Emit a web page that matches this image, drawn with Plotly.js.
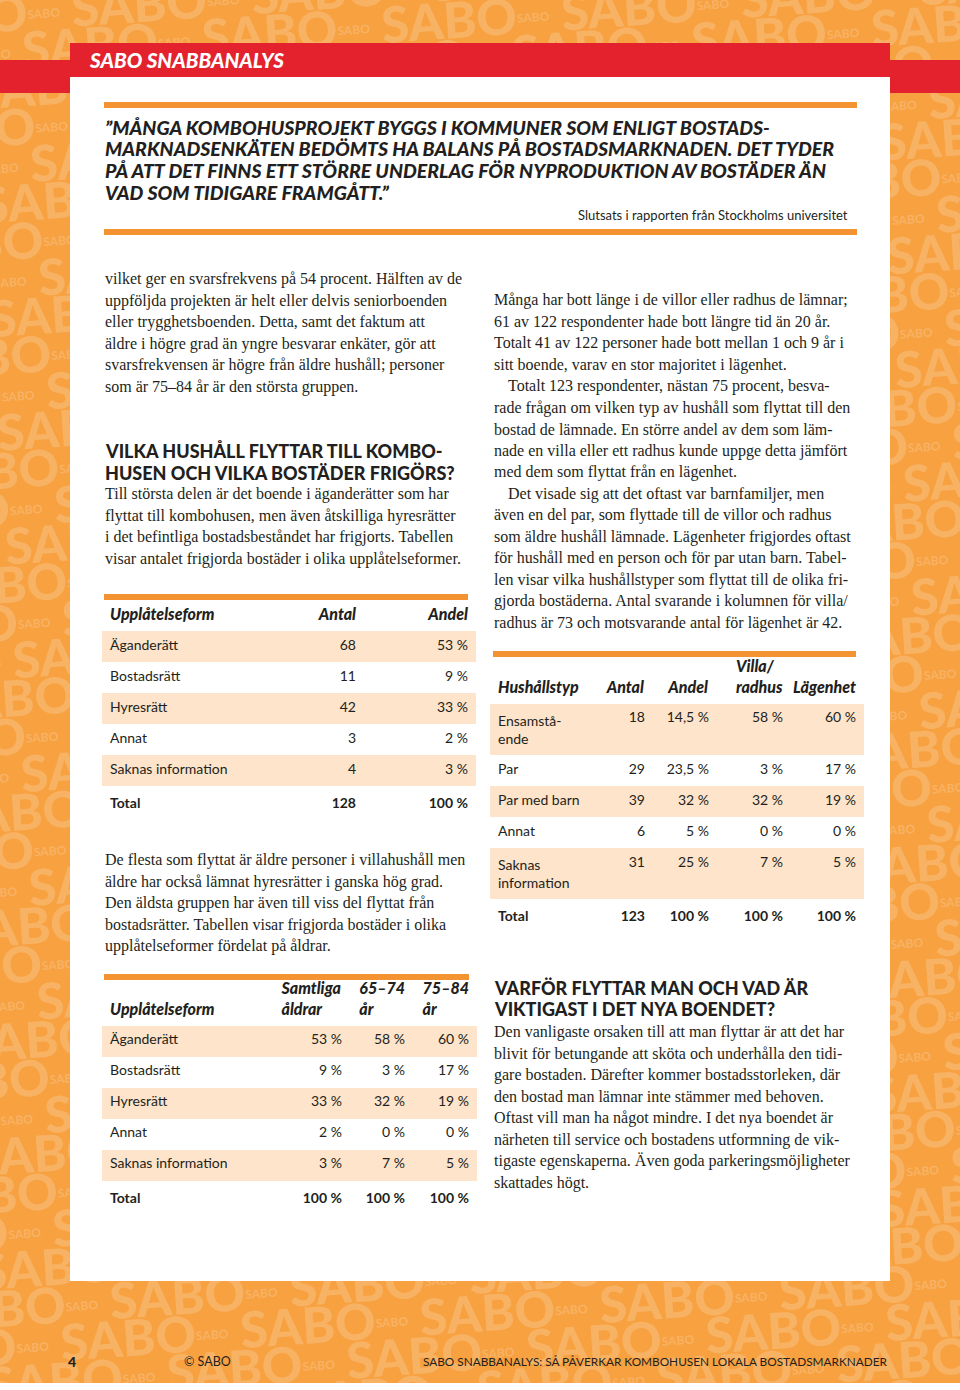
<!DOCTYPE html>
<html>
<head>
<meta charset="utf-8">
<script src="https://cdn.plot.ly/plotly-3.0.1.min.js"></script>
<style>html,body{margin:0;padding:0;background:#fff;} #chart{width:960px;height:1390px;}</style>
</head>
<body>
<div id="chart"></div>
<script>
// ---------------- DATA ----------------
const t1Forms = ['Äganderätt', 'Bostadsrätt', 'Hyresrätt', 'Annat', 'Saknas information'];
const t1Antal = [68, 11, 42, 3, 4];
const t1Andel = [53, 9, 33, 2, 3];
const t1TotalAntal = 128;
const t1TotalAndel = 100;

const t2Types = ['Ensamstå-<br>ende', 'Par', 'Par med barn', 'Annat', 'Saknas<br>information'];
const t2Antal = [18, 29, 39, 6, 31];
const t2Andel = [14.5, 23.5, 32, 5, 25];
const t2Villa = [58, 3, 32, 0, 7];
const t2Lagenhet = [60, 17, 19, 0, 5];
const t2TotalAntal = 123;
const t2TotalPct = 100;

const t3Forms = ['Äganderätt', 'Bostadsrätt', 'Hyresrätt', 'Annat', 'Saknas information'];
const t3Samtliga = [53, 9, 33, 2, 3];
const t3Age6574 = [58, 3, 32, 0, 7];
const t3Age7584 = [60, 17, 19, 0, 5];
const t3TotalPct = 100;

const t1Header = ['Upplåtelseform', 'Antal', 'Andel'];
const t2Header = ['Hushållstyp', 'Antal', 'Andel', 'Villa/<br>radhus', 'Lägenhet'];
const t3Header = ['Upplåtelseform', 'Samtliga<br>åldrar', '65–74<br>år', '75–84<br>år'];

const quoteLines = [
  '”MÅNGA KOMBOHUSPROJEKT BYGGS I KOMMUNER SOM ENLIGT BOSTADS-',
  'MARKNADSENKÄTEN BEDÖMTS HA BALANS PÅ BOSTADSMARKNADEN. DET TYDER',
  'PÅ ATT DET FINNS ETT STÖRRE UNDERLAG FÖR NYPRODUKTION AV BOSTÄDER ÄN',
  'VAD SOM TIDIGARE FRAMGÅTT.”'
];
const quoteSource = 'Slutsats i rapporten från Stockholms universitet';

const leftPara1 = [
  'vilket ger en svarsfrekvens på 54 procent. Hälften av de',
  'uppföljda projekten är helt eller delvis seniorboenden',
  'eller trygghetsboenden. Detta, samt det faktum att',
  'äldre i högre grad än yngre besvarar enkäter, gör att',
  'svarsfrekvensen är högre från äldre hushåll; personer',
  'som är 75–84 år är den största gruppen.'
];
const leftHeading = ['VILKA HUSHÅLL FLYTTAR TILL KOMBO-', 'HUSEN OCH VILKA BOSTÄDER FRIGÖRS?'];
const leftPara2 = [
  'Till största delen är det boende i äganderätter som har',
  'flyttat till kombohusen, men även åtskilliga hyresrätter',
  'i det befintliga bostadsbeståndet har frigjorts. Tabellen',
  'visar antalet frigjorda bostäder i olika upplåtelseformer.'
];
const leftPara3 = [
  'De flesta som flyttat är äldre personer i villahushåll men',
  'äldre har också lämnat hyresrätter i ganska hög grad.',
  'Den äldsta gruppen har även till viss del flyttat från',
  'bostadsrätter. Tabellen visar frigjorda bostäder i olika',
  'upplåtelseformer fördelat på åldrar.'
];
const rightPara1 = [
  'Många har bott länge i de villor eller radhus de lämnar;',
  '61 av 122 respondenter hade bott längre tid än 20 år.',
  'Totalt 41 av 122 personer hade bott mellan 1 och 9 år i',
  'sitt boende, varav en stor majoritet i lägenhet.',
  'Totalt 123 respondenter, nästan 75 procent, besva-',
  'rade frågan om vilken typ av hushåll som flyttat till den',
  'bostad de lämnade. En större andel av dem som läm-',
  'nade en villa eller ett radhus kunde uppge detta jämfört',
  'med dem som flyttat från en lägenhet.',
  'Det visade sig att det oftast var barnfamiljer, men',
  'även en del par, som flyttade till de villor och radhus',
  'som äldre hushåll lämnade. Lägenheter frigjordes oftast',
  'för hushåll med en person och för par utan barn. Tabel-',
  'len visar vilka hushållstyper som flyttat till de olika fri-',
  'gjorda bostäderna. Antal svarande i kolumnen för villa/',
  'radhus är 73 och motsvarande antal för lägenhet är 42.'
];
const rightPara1Indent = [4, 9];
const rightHeading = ['VARFÖR FLYTTAR MAN OCH VAD ÄR', 'VIKTIGAST I DET NYA BOENDET?'];
const rightPara2 = [
  'Den vanligaste orsaken till att man flyttar är att det har',
  'blivit för betungande att sköta och underhålla den tidi-',
  'gare bostaden. Därefter kommer bostadsstorleken, där',
  'den bostad man lämnar inte stämmer med behoven.',
  'Oftast vill man ha något mindre. I det nya boendet är',
  'närheten till service och bostadens utformning de vik-',
  'tigaste egenskaperna. Även goda parkeringsmöjligheter',
  'skattades högt.'
];
const bandTitle = 'SABO SNABBANALYS';
const footerPage = '4';
const footerCopy = '© SABO';
const footerTitle = 'SABO SNABBANALYS: SÅ PÅVERKAR KOMBOHUSEN LOKALA BOSTADSMARKNADER';

// ---------------- STYLE ----------------
const W = 960, H = 1390;
const ORANGE_BG = '#F7A140';
const ORANGE_LINE = '#F39332';
const RED = '#E3222E';
const PEACH = '#FDE4CA';
const INK = '#231F20';
const SERIF = 'Liberation Serif, Times New Roman, serif';
const SANS = 'Lato, Open Sans, sans-serif';
const HEAVY = 'Lato Black, Lato, Open Sans, sans-serif';

const px = x => x / W;
const py = y => 1 - y / H;
const pct = v => String(v).replace('.', ',') + ' %';

// ---------------- BACKGROUND PATTERN ----------------
function patternSVG() {
  let rows = '';
  for (let r = -4; r < 44; r++) {
    const y = r * 38;
    const off = ((r % 3) + 3) % 3 * -52;
    let s = '';
    for (let k = 0; k < 8; k++) s += 'SABO<tspan font-size="12" dy="-11">SABO</tspan><tspan dy="11"> </tspan>';
    rows += '<text x="' + (off - 60) + '" y="' + y + '">' + s + '</text>';
  }
  const svg = '<svg xmlns="http://www.w3.org/2000/svg" width="960" height="1383" viewBox="0 0 960 1383">' +
    '<rect width="960" height="1383" fill="' + ORANGE_BG + '"/>' +
    '<g transform="rotate(-4 480 690)" font-family="Lato Black, Lato, sans-serif" font-weight="900" font-size="50" fill="#FFFFFF" fill-opacity="0.19">' +
    rows + '</g></svg>';
  return 'data:image/svg+xml;charset=utf-8,' + encodeURIComponent(svg);
}

// ---------------- SHAPES ----------------
function rect(x0, y0, x1, y1, color, layer) {
  return {type: 'rect', xref: 'paper', yref: 'paper', x0: px(x0), x1: px(x1), y0: py(y1), y1: py(y0),
          fillcolor: color, line: {width: 0}, layer: layer || 'below'};
}
const shapes = [
  rect(70, 77, 890, 1281, '#FFFFFF'),
  rect(70, 43, 890, 77, RED),
  rect(0, 60, 70, 93, RED),
  rect(890, 60, 960, 93, RED),
  rect(104, 102, 857, 108, ORANGE_LINE),
  rect(104, 229, 857, 235, ORANGE_LINE),
  rect(104, 594, 468, 600, ORANGE_LINE, 'above'),
  rect(493, 651, 856, 657, ORANGE_LINE, 'above'),
  rect(104, 974, 469, 980, ORANGE_LINE, 'above')
];

// ---------------- ANNOTATIONS ----------------
const annotations = [];
function addText(text, x, y, font, xanchor) {
  annotations.push({text: text, x: px(x), y: py(y), xref: 'paper', yref: 'paper', showarrow: false,
    xanchor: xanchor || 'left', yanchor: 'middle', font: font, borderpad: 0});
}
function addLines(lines, x, y0, lh, font, indents, indentPx) {
  lines.forEach((t, i) => {
    const ind = (indents && indents.indexOf(i) >= 0) ? indentPx : 0;
    addText(t, x + ind, y0 + i * lh, font);
  });
}
const serifFont = {family: SERIF, size: 16, color: INK};
const headFont = {family: HEAVY, size: 18, color: INK, weight: 900};
const quoteFont = {family: HEAVY, size: 19.5, color: INK, weight: 900, style: 'italic'};

addText(bandTitle, 88, 60, {family: HEAVY, size: 20.6, color: '#FFFFFF', weight: 900, style: 'italic'});
addLines(quoteLines, 104, 127, 21.7, quoteFont);
addText(quoteSource, 849, 215, {family: SANS, size: 13, color: INK, weight: 400}, 'right');

addLines(leftPara1, 104, 279, 21.6, serifFont);
addLines(leftHeading, 104, 451, 21.5, headFont);
addLines(leftPara2, 104, 494, 21.7, serifFont);
addLines(leftPara3, 104, 860, 21.6, serifFont);
addLines(rightPara1, 493, 300, 21.53, serifFont, rightPara1Indent, 14);
addLines(rightHeading, 493, 988, 21.5, headFont);
addLines(rightPara2, 493, 1032, 21.57, serifFont);

addText(footerPage, 67, 1361, {family: HEAVY, size: 14, color: INK, weight: 900});
addText(footerCopy, 183, 1361, {family: SANS, size: 12.5, color: INK, weight: 400});
addText(footerTitle, 889, 1361, {family: SANS, size: 11.8, color: INK, weight: 400}, 'right');

// ---------------- TABLES ----------------
const bold = s => '<b>' + s + '</b>';
const rowFills = n => { const a = []; for (let i = 0; i < n; i++) a.push(i % 2 === 0 ? PEACH : '#FFFFFF'); a.push('#FFFFFF'); return a; };
const cellFont = {family: SANS, size: 14, color: INK, weight: 400};
const hdrFont = {family: HEAVY, size: 16, color: INK, weight: 900, style: 'italic'};
const noLine = {width: 0, color: 'rgba(0,0,0,0)'};

function tableTrace(headers, columns, x0, x1, yTop, yBot, widths, hdrHeight) {
  const fills = rowFills(columns[0].length - 1);
  return {
    type: 'table',
    domain: {x: [px(x0), px(x1)], y: [py(yBot), py(yTop)]},
    columnwidth: widths,
    header: {values: headers, align: headers.map((h, i) => i === 0 ? 'left' : 'right'),
             fill: {color: '#FFFFFF'}, line: noLine, font: hdrFont, height: hdrHeight},
    cells: {values: columns, align: columns.map((c, i) => i === 0 ? 'left' : 'right'),
            fill: {color: columns.map(() => fills)}, line: noLine, font: cellFont, height: 31}
  };
}

const table1 = tableTrace(
  t1Header,
  [t1Forms.concat(bold('Total')),
   t1Antal.map(String).concat(bold(t1TotalAntal)),
   t1Andel.map(pct).concat(bold(pct(t1TotalAndel)))],
  102, 476, 600, 840, [162, 100, 112], 31);

const table2 = tableTrace(
  ['\u00a0<br>' + t2Header[0], '\u00a0<br>' + t2Header[1], '\u00a0<br>' + t2Header[2], t2Header[3], '\u00a0<br>' + t2Header[4]],
  [t2Types.concat(bold('Total')),
   t2Antal.map(String).concat(bold(t2TotalAntal)),
   t2Andel.map(pct).concat(bold(pct(t2TotalPct))),
   t2Villa.map(pct).concat(bold(pct(t2TotalPct))),
   t2Lagenhet.map(pct).concat(bold(pct(t2TotalPct)))],
  490, 864, 648, 950, [105, 58, 64, 74, 73], 45);

const table3 = tableTrace(
  ['\u00a0<br>' + t3Header[0], t3Header[1], t3Header[2], t3Header[3]],
  [t3Forms.concat(bold('Total')),
   t3Samtliga.map(pct).concat(bold(pct(t3TotalPct))),
   t3Age6574.map(pct).concat(bold(pct(t3TotalPct))),
   t3Age7584.map(pct).concat(bold(pct(t3TotalPct)))],
  102, 477, 970, 1240, [158, 90, 63, 64], 45);

const layout = {
  width: W, height: H,
  margin: {l: 0, r: 0, t: 0, b: 0, pad: 0},
  paper_bgcolor: '#FFFFFF',
  plot_bgcolor: 'rgba(0,0,0,0)',
  showlegend: false,
  images: [{source: patternSVG(), xref: 'paper', yref: 'paper', x: 0, y: 1, sizex: 1, sizey: 1383 / H,
            xanchor: 'left', yanchor: 'top', sizing: 'stretch', layer: 'below'}],
  shapes: shapes,
  annotations: annotations
};

Plotly.newPlot('chart', [table1, table2, table3], layout, {staticPlot: true, displayModeBar: false});
</script>
</body>
</html>
